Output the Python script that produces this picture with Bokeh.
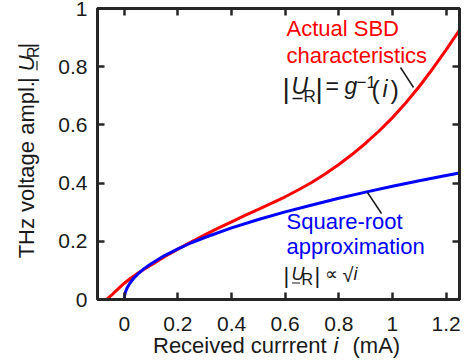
import math
from bokeh.plotting import figure
from bokeh.models import Label, LinearAxis, FixedTicker, Range1d
from bokeh.layouts import row, column
from bokeh.embed import file_html
from bokeh.resources import INLINE

# ---------------- data ----------------
red_i = [-0.066, -0.05, -0.025, 0.0, 0.025, 0.05, 0.075, 0.1, 0.15, 0.2, 0.25, 0.3,
         0.35, 0.4, 0.45, 0.5, 0.55, 0.6, 0.65, 0.7, 0.75, 0.8, 0.85, 0.9, 0.95,
         1.0, 1.05, 1.1, 1.15, 1.2, 1.25]
red_u = [0.0, 0.013, 0.035, 0.056, 0.074, 0.090, 0.105, 0.119, 0.147, 0.173, 0.198,
         0.222, 0.245, 0.267, 0.289, 0.310, 0.331, 0.353, 0.377, 0.403, 0.432, 0.464,
         0.499, 0.537, 0.579, 0.625, 0.676, 0.732, 0.793, 0.858, 0.926]

blue_i = [0.0, 0.001, 0.004, 0.01, 0.02, 0.035, 0.05, 0.075, 0.1, 0.15, 0.2, 0.25,
          0.3, 0.4, 0.5, 0.6, 0.7, 0.8, 0.9, 1.0, 1.1, 1.2, 1.25]
blue_u = [0.0, 0.012, 0.025, 0.039, 0.055, 0.073, 0.087, 0.107, 0.123, 0.151, 0.174,
          0.195, 0.213, 0.246, 0.275, 0.301, 0.325, 0.348, 0.369, 0.389, 0.408,
          0.426, 0.435]

x_ticks = [0, 0.2, 0.4, 0.6, 0.8, 1.0, 1.2]
x_tick_labels = ["0", "0.2", "0.4", "0.6", "0.8", "1", "1.2"]
y_ticks = [0, 0.2, 0.4, 0.6, 0.8, 1.0]
y_tick_labels = ["0", "0.2", "0.4", "0.6", "0.8", "1"]

# ---------------- layout ----------------
W, H = 465, 362
YW = 46            # strip holding the y-axis title
HM = 311           # height of the main plot (x tick labels + title strip lie below)
FL, FR, FT, FB = 97, 459, 8, 299   # frame edges in page pixels
X0, X1 = -0.1, 1.25
Y0, Y1 = 0.0, 1.0
K = 0.35           # observed baseline offset of Label text, in em

FONT = "Liberation Sans"
DARK = "#262626"
INK = "#1a1a1a"
RED = "#ff0000"
BLUE = "#0000ff"

def px2x(px):
    return X0 + (px - FL) / (FR - FL) * (X1 - X0)

def py2y(py):
    return Y1 - (py - FT) / (FB - FT) * (Y1 - Y0)

p = figure(width=W - YW, height=HM, x_range=Range1d(X0, X1), y_range=Range1d(Y0, Y1),
           output_backend="svg", toolbar_location=None, title=None,
           min_border_left=FL - YW, min_border_right=W - FR, min_border_top=FT,
           min_border_bottom=HM - FB, x_axis_location=None, y_axis_location=None)
p.background_fill_color = "white"
p.border_fill_color = "white"
p.outline_line_color = DARK
p.outline_line_width = 3
p.xgrid.visible = False
p.ygrid.visible = False

xt = FixedTicker(ticks=x_ticks)
yt = FixedTicker(ticks=y_ticks)

def make_axis(ticker, labels, ticks, standoff):
    ax = LinearAxis(ticker=ticker)
    ax.axis_line_color = DARK
    ax.axis_line_width = 3
    ax.major_tick_line_color = DARK
    ax.major_tick_line_width = 2.5
    ax.major_tick_in = 7
    ax.major_tick_out = 0
    ax.minor_tick_line_color = None
    ax.major_label_text_font = FONT
    ax.major_label_text_font_size = "21px"
    ax.major_label_text_color = INK
    ax.major_label_standoff = standoff
    ax.major_label_overrides = {t: l for t, l in zip(ticks, labels)}
    return ax

p.add_layout(make_axis(xt, [""] * len(x_ticks), x_ticks, 0), "below")
p.add_layout(make_axis(yt, y_tick_labels, y_ticks, 10), "left")
p.add_layout(make_axis(xt, [""] * len(x_ticks), x_ticks, 0), "above")
p.add_layout(make_axis(yt, [""] * len(y_ticks), y_ticks, 0), "right")

# ---------------- curves ----------------
p.line(red_i, red_u, line_color=RED, line_width=3)
p.line(blue_i, blue_u, line_color=BLUE, line_width=3)

# ---------------- annotations in the plot ----------------
def lab(text, px, py, size, color=INK, style="normal"):
    p.add_layout(Label(x=px2x(px), y=py2y(py - K * size), text=text, text_font=FONT,
                       text_font_size=f"{size}px", text_font_style=style,
                       text_color=color, text_align="left",
                       text_baseline="alphabetic"))

def seg(x0p, y0p, x1p, y1p, w=1.5, color=INK):
    p.segment(x0=[px2x(x0p)], y0=[py2y(y0p)], x1=[px2x(x1p)], y1=[py2y(y1p)],
              line_color=color, line_width=w)

lab("Actual SBD", 286, 36, 22, RED)
lab("characteristics", 286, 63, 22, RED)

# |U_R| = g^-1(i)
lab("|", 282, 98, 28)
lab("U", 291, 94, 23, style="italic")
seg(292, 98, 302, 98, w=1.3)
lab("R", 303, 101.5, 17)
lab("|", 315, 98, 28)
lab("=", 325, 94, 23)
lab("g", 344, 94, 23, style="italic")
lab("\u22121", 356, 87, 17)
lab("(", 371, 98, 25)
lab("i", 382, 97, 23, style="italic")
lab(")", 390, 98, 25)
seg(400, 67, 413, 87)

lab("Square-root", 286, 229, 22, BLUE)
lab("approximation", 286, 254, 22, BLUE)

# |U_R| ∝ sqrt(i)
lab("|", 283, 283, 22)
lab("U", 291, 280, 18, style="italic")
seg(291.5, 282.5, 299.5, 282.5, w=1.2)
lab("R", 301, 285, 16)
lab("|", 314, 283, 22)
lab("\u221d", 324, 280, 18)
lab("\u221a", 342, 281, 20)
lab("i", 353, 280, 18, style="italic")
seg(367, 192, 381, 213)

# ---------------- strips ----------------
def strip(w, h, xr):
    f = figure(width=w, height=h, x_range=xr, y_range=Range1d(h, 0),
               output_backend="svg", toolbar_location=None, title=None,
               min_border_left=0, min_border_right=0, min_border_top=0,
               min_border_bottom=0, x_axis_location=None, y_axis_location=None)
    f.background_fill_color = "white"
    f.border_fill_color = "white"
    f.outline_line_color = None
    f.xgrid.visible = False
    f.ygrid.visible = False
    return f

# y-axis title strip (pixel coordinates)
ys = strip(YW, HM, Range1d(0, YW))
A = math.pi / 2

def ylab(text, px, py, size, style="normal"):
    ys.add_layout(Label(x=px - K * size, y=py, text=text, text_font=FONT,
                        text_font_size=f"{size}px", text_font_style=style,
                        text_color=INK, text_align="left",
                        text_baseline="alphabetic", angle=A))

ylab("THz voltage ampl.", 34, 267, 22)
ylab("|", 34, 80, 22, style="italic")
ylab("U", 34, 67, 22, style="italic")
ys.segment(x0=[36.5], y0=[66], x1=[36.5], y1=[56], line_color=INK, line_width=1.2)
ylab("R", 39, 53, 16)
ylab("|", 34, 43, 22, style="italic")

# x tick labels + x-axis title strip: same data scale as the plot, full width
S = (X1 - X0) / (FR - FL)
XH = H - HM
xs = strip(W, XH, Range1d(X0 - FL * S, X1 + (W - FR) * S))

for t, l in zip(x_ticks, x_tick_labels):
    xs.add_layout(Label(x=t, y=331 - HM - K * 21, text=l, text_font=FONT,
                        text_font_size="21px", text_color=INK, text_align="center",
                        text_baseline="alphabetic"))

def xlab(text, px, py, size, style="normal"):
    xs.add_layout(Label(x=px2x(px), y=py - HM - K * size, text=text, text_font=FONT,
                        text_font_size=f"{size}px", text_font_style=style,
                        text_color=INK, text_align="left",
                        text_baseline="alphabetic"))

xlab("Received currrent", 152.5, 352.5, 22)
xlab("i", 333, 352.5, 22, style="italic")
xlab("(mA)", 352, 352.5, 22)

layout = column(row(ys, p, spacing=0), xs, spacing=0)
open("out.html", "w").write(file_html(layout, INLINE))
